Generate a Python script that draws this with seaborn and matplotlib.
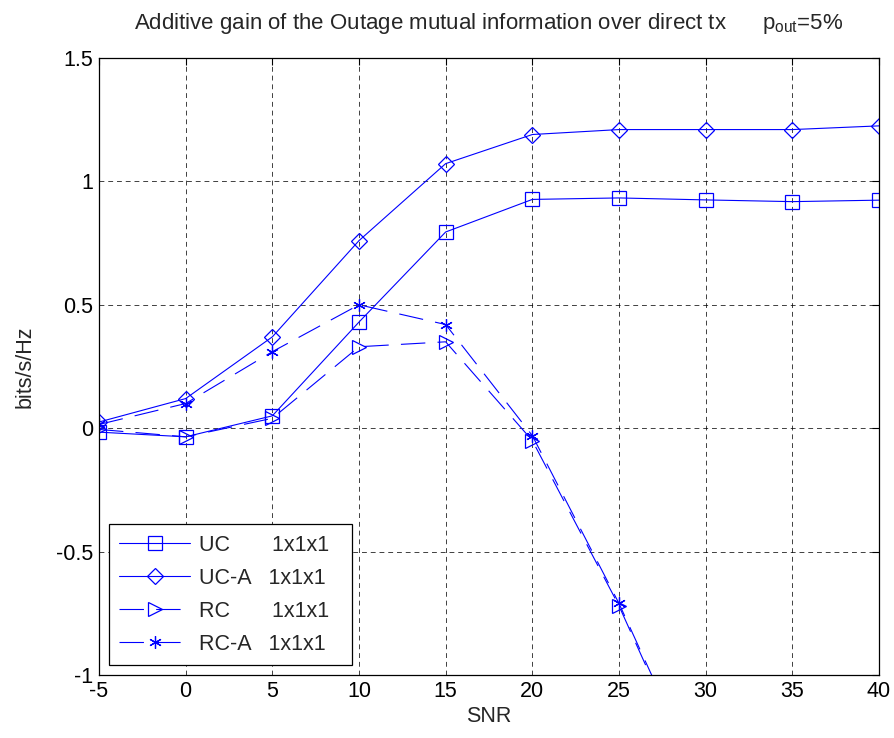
import matplotlib
matplotlib.use("Agg")
import matplotlib.pyplot as plt
import seaborn as sns
import numpy as np

snr = [-5, 0, 5, 10, 15, 20, 25, 30, 35, 40]
uc = [-0.016, -0.035, 0.05, 0.43, 0.795, 0.927, 0.933, 0.925, 0.918, 0.924]
uc_a = [0.025, 0.12, 0.37, 0.76, 1.072, 1.19, 1.21, 1.21, 1.21, 1.225]
rc = [-0.005, -0.035, 0.04, 0.33, 0.35, -0.05, -0.72, -1.5, -2.3, -3.1]
rc_a = [0.015, 0.10, 0.31, 0.50, 0.42, -0.03, -0.71, -1.48, -2.28, -3.08]

labels = ["UC       1x1x1  ", "UC-A   1x1x1  ", "RC       1x1x1  ", "RC-A   1x1x1  "]
xticks = [-5, 0, 5, 10, 15, 20, 25, 30, 35, 40]
yticks = [-1, -0.5, 0, 0.5, 1, 1.5]
ytick_labels = ["-1", "-0.5", "0", "0.5", "1", "1.5"]

sns.set_style("white")
plt.rcParams['font.family'] = ['Liberation Sans', 'DejaVu Sans']
plt.rcParams['mathtext.fontset'] = 'custom'
plt.rcParams['mathtext.rm'] = 'Liberation Sans'
plt.rcParams['mathtext.it'] = 'Liberation Sans'

FS = 15.5

fig = plt.figure(figsize=(8.95, 7.38), dpi=100)
ax = fig.add_axes([0.1106, 0.0854, 0.8715, 0.8360])

blue = (0, 0, 1)
dash = (0, (22, 11))
specs = [
    (uc, 's', '-', 10, labels[0]),
    (uc_a, 'D', '-', 8, labels[1]),
    (rc, '>', dash, 10, labels[2]),
    (rc_a, (6, 2, 0), dash, 9, labels[3]),
]
for vals, mk, ls, ms, lab in specs:
    sns.lineplot(x=snr, y=vals, ax=ax, color=blue, marker=mk, linestyle=ls,
                 markersize=ms, markerfacecolor='none', markeredgecolor=blue,
                 markeredgewidth=0.9, linewidth=0.8, label=lab)

ax.set_xlim(-5, 40)
ax.set_ylim(-1, 1.5)
ax.set_xticks(xticks)
ax.set_yticks(yticks)
ax.set_xticklabels([str(t) for t in xticks])
ax.set_yticklabels(ytick_labels)
ax.grid(True, color='black', linestyle=(0, (5, 4)), linewidth=0.7, alpha=0.75)
ax.tick_params(direction='in', length=5, width=0.8, top=True, right=True,
               labelsize=FS, colors='black', pad=4)
for s in ax.spines.values():
    s.set_color('black')
    s.set_linewidth(0.9)
    s.set_visible(True)

ax.set_xlabel("SNR", fontsize=FS, labelpad=3)
ax.set_ylabel("bits/s/Hz", fontsize=FS, labelpad=15)
ax.set_title("Additive gain of the Outage mutual information over direct tx      $p_{out}$=5%",
             fontsize=16, pad=21)

leg = ax.legend(loc='lower left', fontsize=FS, frameon=True, fancybox=False,
                edgecolor='black', framealpha=1, handlelength=3.3,
                handletextpad=0.4, borderaxespad=0.45, labelspacing=0.55,
                borderpad=0.5)
leg.get_frame().set_linewidth(0.9)

fig.savefig("out.png", dpi=100)
